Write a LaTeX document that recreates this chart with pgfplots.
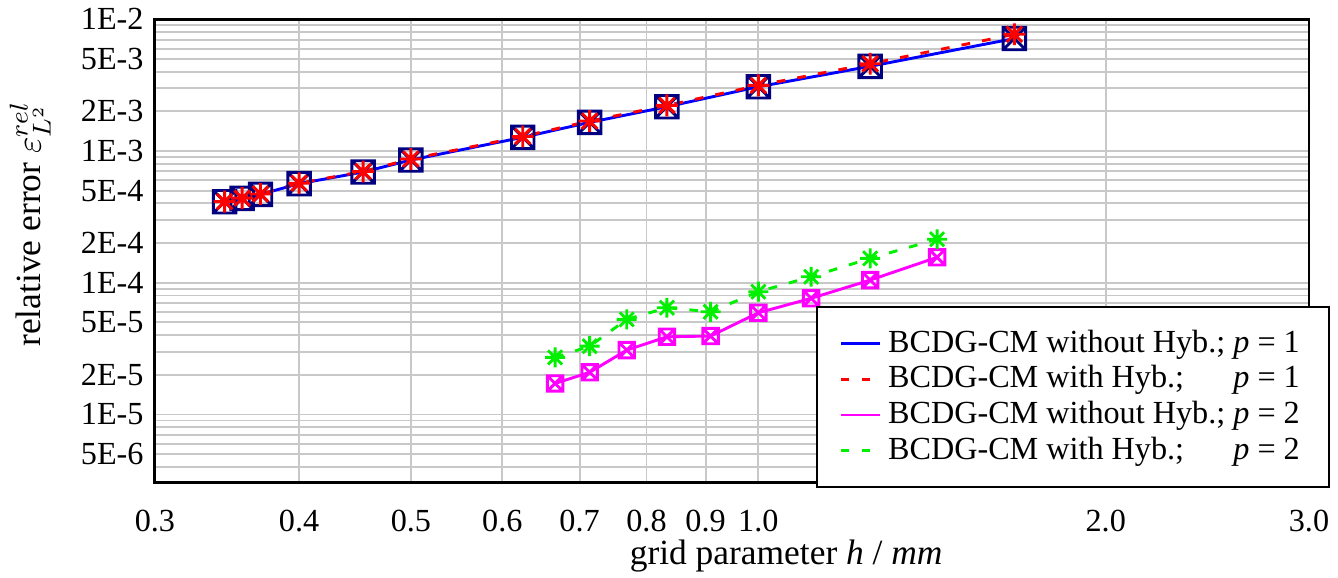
\documentclass[border=0pt]{standalone}
\usepackage{fontspec}
\setmainfont{Liberation Serif}
\usepackage{pgfplots}
\usepackage{pgfplotstable}
\pgfplotsset{compat=1.18}

\definecolor{navy}{RGB}{0,0,128}
\definecolor{gridgray}{RGB}{200,200,200}
\definecolor{limegreen}{RGB}{0,240,0}
\definecolor{puremagenta}{RGB}{255,0,255}

% square with both diagonals
\pgfdeclareplotmark{boxx}{%
  \pgfpathrectangle{\pgfpoint{-\pgfplotmarksize}{-\pgfplotmarksize}}{\pgfpoint{2\pgfplotmarksize}{2\pgfplotmarksize}}%
  \pgfpathmoveto{\pgfpoint{-\pgfplotmarksize}{-\pgfplotmarksize}}%
  \pgfpathlineto{\pgfpoint{\pgfplotmarksize}{\pgfplotmarksize}}%
  \pgfpathmoveto{\pgfpoint{-\pgfplotmarksize}{\pgfplotmarksize}}%
  \pgfpathlineto{\pgfpoint{\pgfplotmarksize}{-\pgfplotmarksize}}%
  \pgfusepathqstroke}
% eight-armed star
\pgfdeclareplotmark{star8}{%
  \pgfpathmoveto{\pgfpoint{-\pgfplotmarksize}{0pt}}\pgfpathlineto{\pgfpoint{\pgfplotmarksize}{0pt}}%
  \pgfpathmoveto{\pgfpoint{0pt}{-\pgfplotmarksize}}\pgfpathlineto{\pgfpoint{0pt}{\pgfplotmarksize}}%
  \pgfpathmoveto{\pgfpoint{-.707\pgfplotmarksize}{-.707\pgfplotmarksize}}\pgfpathlineto{\pgfpoint{.707\pgfplotmarksize}{.707\pgfplotmarksize}}%
  \pgfpathmoveto{\pgfpoint{-.707\pgfplotmarksize}{.707\pgfplotmarksize}}\pgfpathlineto{\pgfpoint{.707\pgfplotmarksize}{-.707\pgfplotmarksize}}%
  \pgfusepathqstroke}

% h [mm]   relative L2 error
\pgfplotstableread{
h       err
0.3448  4.12e-4
0.3571  4.375e-4
0.3704  4.69e-4
0.4000  5.65e-4
0.4545  6.93e-4
0.5000  8.55e-4
0.6250  1.271e-3
0.7143  1.652e-3
0.8333  2.17e-3
1.0000  3.077e-3
1.2500  4.40e-3
1.6667  7.15e-3
}\pOneNoHyb
\pgfplotstableread{
h       err
0.3448  4.13e-4
0.3571  4.39e-4
0.3704  4.72e-4
0.4000  5.70e-4
0.4545  7.00e-4
0.5000  8.70e-4
0.6250  1.29e-3
0.7143  1.69e-3
0.8333  2.22e-3
1.0000  3.15e-3
1.2500  4.60e-3
1.6667  7.70e-3
}\pOneHyb
\pgfplotstableread{
h       err
0.6667  1.72e-5
0.7143  2.09e-5
0.7692  3.08e-5
0.8333  3.89e-5
0.9091  3.94e-5
1.0000  5.92e-5
1.1111  7.62e-5
1.2500  1.048e-4
1.4286  1.56e-4
}\pTwoNoHyb
\pgfplotstableread{
h       err
0.6667  2.71e-5
0.7143  3.30e-5
0.7692  5.27e-5
0.8333  6.46e-5
0.9091  6.02e-5
1.0000  8.55e-5
1.1111  1.111e-4
1.2500  1.532e-4
1.4286  2.14e-4
}\pTwoHyb

\begin{document}
\begin{tikzpicture}
\begin{loglogaxis}[
  name=ax,
  scale only axis,
  width=358.4pt, height=143.8pt,
  xmin=0.3, xmax=3.0,
  ymin=3.05e-6, ymax=1e-2,
  axis line style={line width=0.9pt},
  xtick={0.3,0.4,0.5,0.6,0.7,0.8,0.9,1.0,2.0,3.0},
  xticklabels={0.3,0.4,0.5,0.6,0.7,0.8,0.9,1.0,2.0,3.0},
  minor xtick={},
  ytick={5e-6,1e-5,2e-5,5e-5,1e-4,2e-4,5e-4,1e-3,2e-3,5e-3,1e-2},
  yticklabels={5E-6,1E-5,2E-5,5E-5,1E-4,2E-4,5E-4,1E-3,2E-3,5E-3,1E-2},
  minor ytick={3e-6,4e-6,6e-6,7e-6,8e-6,9e-6,
               3e-5,4e-5,6e-5,7e-5,8e-5,9e-5,
               3e-4,4e-4,6e-4,7e-4,8e-4,9e-4,
               3e-3,4e-3,6e-3,7e-3,8e-3,9e-3},
  major tick length=0pt, minor tick length=0pt,
  grid=both,
  major grid style={gridgray, line width=0.6pt},
  minor grid style={gridgray, line width=0.6pt},
  xticklabel shift=5pt,
  xlabel={grid parameter \textit{h} / \textit{mm}},
  xlabel style={at={(axis description cs:0.547,-0.158)}, anchor=center,
    font=\fontsize{11}{13}\selectfont},
  ylabel={relative error $\varepsilon^{rel}_{L^2}$},
  ylabel style={at={(axis description cs:-0.108,0.558)}, anchor=center,
    font=\fontsize{11}{13}\selectfont},
  legend cell align=left,
  legend image code/.code={\draw[#1] (0cm,0cm) -- (0.43cm,0cm);},
  legend style={at={(1.018,-0.012)}, anchor=south east, draw=black,
    line width=0.6pt, fill=white, inner xsep=7pt, inner ysep=5pt,
    row sep=-1.3pt},
]
\addplot[blue, line width=0.9pt, mark=boxx, mark size=3.5pt,
  mark options={draw=navy, solid, line width=0.9pt}]
  table[x=h, y=err] {\pOneNoHyb};
\addlegendentry{BCDG-CM without Hyb.; \textit{p} = 1}
\addplot[red, line width=0.9pt, dash pattern=on 2.7pt off 3.8pt,
  mark=star8, mark size=3.4pt, mark options={solid, line width=0.9pt}]
  table[x=h, y=err] {\pOneHyb};
\addlegendentry{\rlap{BCDG-CM with Hyb.;}\phantom{BCDG-CM without Hyb.;} \textit{p} = 1}
\addplot[puremagenta, line width=0.9pt, mark=boxx, mark size=2.4pt,
  mark options={solid, line width=0.9pt}]
  table[x=h, y=err] {\pTwoNoHyb};
\addlegendentry{BCDG-CM without Hyb.; \textit{p} = 2}
\addplot[limegreen, line width=0.9pt, dash pattern=on 2.7pt off 3.8pt,
  mark=star8, mark size=3.1pt, mark options={solid, line width=0.9pt}]
  table[x=h, y=err] {\pTwoHyb};
\addlegendentry{\rlap{BCDG-CM with Hyb.;}\phantom{BCDG-CM without Hyb.;} \textit{p} = 2}
\end{loglogaxis}
\pgfresetboundingbox
\path (ax.south west) ++(-48.1pt,-29.4pt) rectangle ++(415.5pt,179.2pt);
\end{tikzpicture}
\end{document}
